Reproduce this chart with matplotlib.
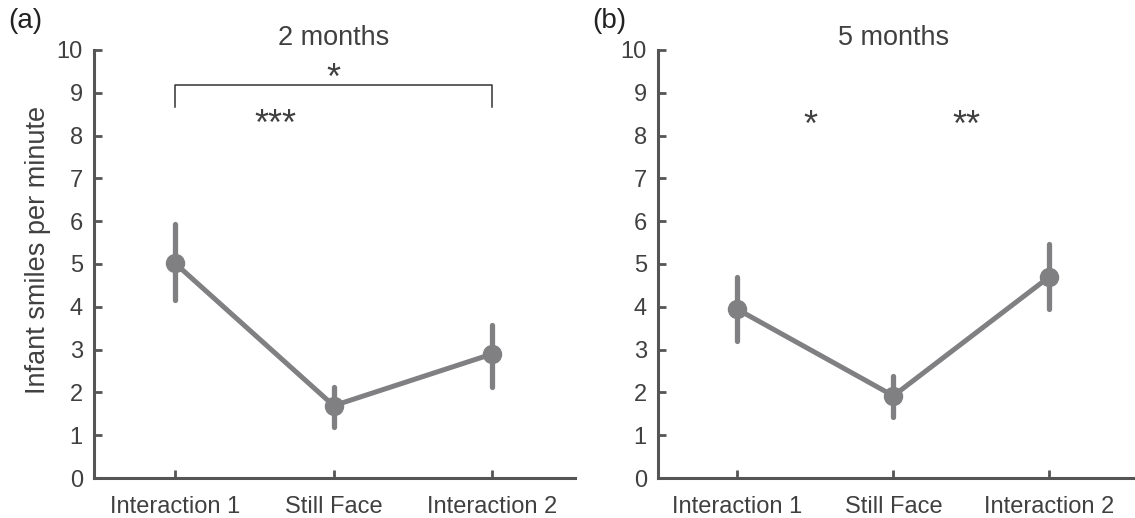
import numpy as np
import matplotlib.pyplot as plt

plt.rcParams['font.family'] = ['Liberation Sans', 'DejaVu Sans']

conditions = ['Interaction 1', 'Still Face', 'Interaction 2']

# mean smiles per minute with error bar ends
mean_2mo = [5.02, 1.69, 2.90]
low_2mo = [4.16, 1.19, 2.13]
high_2mo = [5.93, 2.13, 3.57]

mean_5mo = [3.94, 1.92, 4.70]
low_5mo = [3.19, 1.43, 3.95]
high_5mo = [4.70, 2.39, 5.47]

line_col = '#808083'
axis_col = '#555555'
text_col = '#404040'

fig = plt.figure(figsize=(11.35, 5.18), dpi=100)
ax1 = fig.add_axes([0.0828, 0.0772, 0.4238, 0.8263])
ax2 = fig.add_axes([0.5797, 0.0772, 0.4203, 0.8263])

def draw_panel(ax, means, lows, highs, title, xmax):
    x = np.arange(len(conditions))
    ax.vlines(x, lows, highs, color=line_col, lw=3.8, capstyle='round', zorder=2)
    ax.plot(x, means, color=line_col, lw=3.6, marker='o', ms=13, zorder=3)
    ax.set_xlim(-0.51, xmax)
    ax.set_ylim(0, 10)
    ax.set_yticks(range(11))
    ax.set_xticks(x)
    ax.set_xticklabels(conditions, fontsize=17)
    for side in ('top', 'right'):
        ax.spines[side].set_visible(False)
    for side in ('left', 'bottom'):
        ax.spines[side].set_color(axis_col)
        ax.spines[side].set_linewidth(2.2)
    ax.tick_params(direction='in', length=6, width=2, color=axis_col,
                   labelsize=17, labelcolor=text_col, pad=8)
    ax.tick_params(axis='x', pad=13)
    ax.text(1, 10.12, title, ha='center', va='baseline', fontsize=19.5, color=text_col)

draw_panel(ax1, mean_2mo, low_2mo, high_2mo, '2 months', 2.52)
draw_panel(ax2, mean_5mo, low_5mo, high_5mo, '5 months', 2.55)

ax1.set_ylabel('Infant smiles per minute', fontsize=19.5, color=text_col)
ax1.yaxis.set_label_coords(-0.089, 0.533)

# significance markers
star = dict(ha='center', va='center_baseline', fontsize=26, color=text_col)
ax1.plot([0, 0, 2, 2], [8.67, 9.18, 9.18, 8.67], color='#333333', lw=1.1, clip_on=False)
ax1.text(1, 9.41, '*', **star)
ax1.text(0.63, 8.33, '***', **star)
ax2.text(0.47, 8.31, '*', **star)
ax2.text(1.47, 8.31, '**', **star)

fig.text(0.007, 0.945, '(a)', fontsize=20, color='#222222')
fig.text(0.522, 0.945, '(b)', fontsize=20, color='#222222')

fig.savefig('out.png', dpi=100)
